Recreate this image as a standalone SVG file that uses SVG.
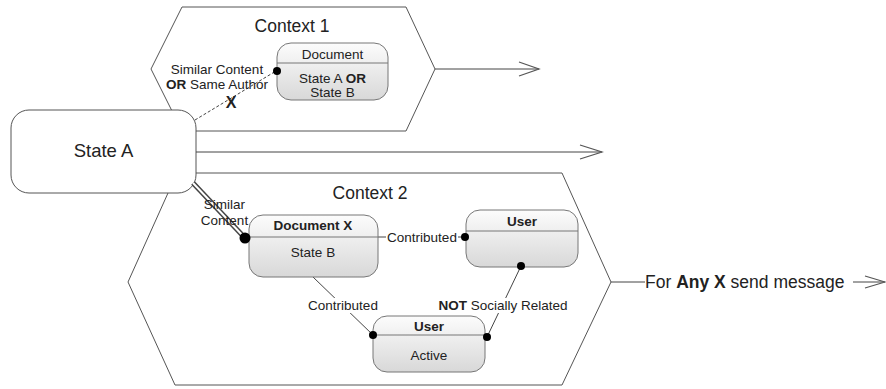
<svg xmlns="http://www.w3.org/2000/svg" width="886" height="389" viewBox="0 0 886 389">
<defs>
<linearGradient id="g" x1="0" y1="0" x2="0" y2="1"><stop offset="0" stop-color="#fcfcfc"/><stop offset="1" stop-color="#d8d8d8"/></linearGradient>
<style>
.hex{fill:#fff;stroke:#555;stroke-width:1}
.t{font-family:"Liberation Sans",Arial,sans-serif;fill:#222}
.s{font-size:13.5px}
.node{fill:url(#g);stroke:#777;stroke-width:1}
.div{stroke:#777;stroke-width:1}
.ln{stroke:#444;stroke-width:1;fill:none}
.ah{stroke:#555;stroke-width:1.2;fill:none}
.dot{fill:#000}
.b{font-weight:bold}
.bg{fill:#fff}
</style>
</defs>
<rect width="886" height="389" fill="#fff"/>
<g id="context2">
<polygon class="hex" points="177,173 562,173 611,282 562,385 175,385 128,282"/>
<text class="t" x="370" y="199" font-size="17.5" text-anchor="middle">Context 2</text>
</g>
<g id="context1">
<polygon class="hex" points="182,7 406,7 435,69 406,131 182,131 151,69"/>
<text class="t" x="292" y="32" font-size="17.5" text-anchor="middle">Context 1</text>
</g>
<g id="stateA">
<rect x="11" y="110" width="185" height="83" rx="18" fill="#fff" stroke="#555"/>
<text class="t" x="103.5" y="157" font-size="18.5" text-anchor="middle">State A</text>
</g>
<g id="connectors">
<line class="ln" x1="435" y1="69" x2="539" y2="69"/>
<polyline class="ah" points="519,62 539,69 519,76"/>
<line class="ln" x1="196" y1="152" x2="602" y2="152"/>
<polyline class="ah" points="580,145 602,152 580,159"/>
<line class="ln" x1="611" y1="282" x2="645" y2="282"/>
<line class="ln" x1="853" y1="282" x2="885" y2="282"/>
<polyline class="ah" points="865,276 885,282 865,288"/>
<text class="t" x="645" y="288" font-size="17.5">For <tspan class="b">Any X</tspan> send message</text>
<line class="ln" x1="195" y1="120" x2="276" y2="71" stroke-dasharray="3,2"/>
<text class="t b" x="231" y="108" font-size="16" text-anchor="middle">X</text>
<text class="t s" x="217" y="74" text-anchor="middle">Similar Content</text>
<text class="t s" x="217" y="89" text-anchor="middle"><tspan class="b">OR</tspan> Same Author</text>
<line x1="193" y1="183" x2="245" y2="238" stroke="#444" stroke-width="5"/>
<line x1="193" y1="183" x2="245" y2="238" stroke="#fff" stroke-width="2"/>
<text class="t s" x="224.5" y="209" text-anchor="middle">Similar</text>
<text class="t s" x="224.5" y="225" text-anchor="middle">Content</text>
<line class="ln" x1="378" y1="237" x2="465" y2="237"/>
<rect class="bg" x="386" y="230" width="72" height="15"/>
<text class="t s" x="422" y="242" text-anchor="middle">Contributed</text>
<line class="ln" x1="313" y1="277" x2="373" y2="335"/>
<rect class="bg" x="307" y="298" width="72" height="15"/>
<text class="t s" x="343" y="310" text-anchor="middle">Contributed</text>
<line class="ln" x1="521" y1="266" x2="487" y2="337"/>
<rect class="bg" x="437" y="298" width="133" height="15"/>
<text class="t s" x="503" y="310" text-anchor="middle"><tspan class="b">NOT</tspan> Socially Related</text>
</g>
<g id="doc1">
<rect class="node" x="277" y="43" width="111" height="57" rx="14"/>
<line class="div" x1="277" y1="63" x2="388" y2="63"/>
<text class="t s" x="332.5" y="59" text-anchor="middle">Document</text>
<text class="t s" x="332.5" y="83" text-anchor="middle">State A <tspan class="b">OR</tspan></text>
<text class="t s" x="332.5" y="97" text-anchor="middle">State B</text>
</g>
<g id="docX">
<rect class="node" x="249" y="215" width="129" height="62" rx="14"/>
<line class="div" x1="249" y1="237" x2="378" y2="237"/>
<text class="t s b" x="313" y="230" text-anchor="middle">Document X</text>
<text class="t s" x="313" y="257" text-anchor="middle">State B</text>
</g>
<g id="user1">
<rect class="node" x="466" y="210" width="112" height="57" rx="14"/>
<line class="div" x1="466" y1="231" x2="578" y2="231"/>
<text class="t s b" x="522" y="226" text-anchor="middle">User</text>
</g>
<g id="user2">
<rect class="node" x="373" y="316" width="112" height="56" rx="14"/>
<line class="div" x1="373" y1="335" x2="485" y2="335"/>
<text class="t s b" x="429" y="331" text-anchor="middle">User</text>
<text class="t s" x="429" y="360" text-anchor="middle">Active</text>
</g>
<g id="dots">
<line class="ln" x1="245" y1="237" x2="249" y2="237"/>
<circle class="dot" cx="245" cy="238" r="5.5"/>
<circle class="dot" cx="277" cy="71" r="4"/>
<circle class="dot" cx="465" cy="237" r="4"/>
<circle class="dot" cx="521" cy="266" r="4"/>
<circle class="dot" cx="373" cy="335" r="4"/>
<circle class="dot" cx="487" cy="337" r="4"/>
</g>
</svg>
